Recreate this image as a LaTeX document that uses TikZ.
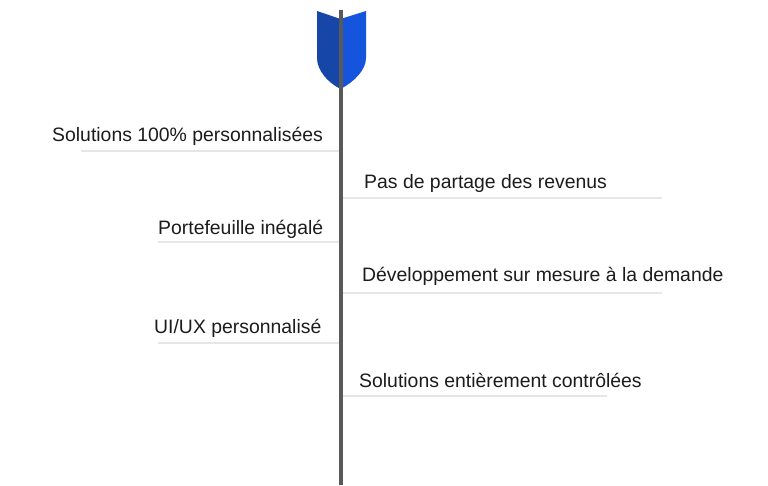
\documentclass[tikz,border=0pt]{standalone}
\usepackage{fontspec}
\setmainfont{Liberation Sans}
\definecolor{shaftgray}{HTML}{595959}
\definecolor{rulegray}{HTML}{E7E6E6}
\definecolor{fletchdark}{HTML}{1546A8}
\definecolor{fletchlight}{HTML}{1554DC}
\definecolor{labeltext}{HTML}{1C1C1C}
\tikzset{
  lab/.style={font=\fontsize{19.4}{22}\selectfont, text=labeltext, inner sep=0pt, anchor=base west},
  rulel/.style={draw=rulegray, line width=2pt},
  shaft/.style={draw=shaftgray, line width=4pt}
}
\begin{document}
\begin{tikzpicture}[x=1pt,y=-1pt]
\useasboundingbox (0,0) rectangle (768,486);
\fill[white] (0,0) rectangle (768,486);
\coordinate (top) at (340.5,10);
\coordinate (bot) at (340.5,485);
\fill[fletchdark] (317,11) -- (340.5,19) -- (340.5,89) .. controls (327,82) and (317,70) .. (317,58) -- cycle;
\fill[fletchlight] (366,11) -- (340.5,19) -- (340.5,89) .. controls (354,82) and (366,70) .. (366,58) -- cycle;
\coordinate (a) at (81,151.5); \coordinate (aa) at (340,151.5);
\coordinate (b) at (158,242.5); \coordinate (bb) at (340,242.5);
\coordinate (c) at (158,342.5); \coordinate (cc) at (340,342.5);
\coordinate (d) at (341,198); \coordinate (dd) at (662,198);
\coordinate (e) at (341,293); \coordinate (ee) at (662,293);
\coordinate (f) at (341,395.5); \coordinate (ff) at (607,395.5);
\draw[rulel] (a) -- (aa);
\draw[rulel] (b) -- (bb);
\draw[rulel] (c) -- (cc);
\draw[rulel] (d) -- (dd);
\draw[rulel] (e) -- (ee);
\draw[rulel] (f) -- (ff);
\draw[shaft] (top) -- (bot);
\node[lab] (n1) at (52,142) {Solutions 100\% personnalisées};
\node[lab] (n2) at (158,234.5) {Portefeuille inégalé};
\node[lab] (n3) at (154,333.5) {UI/UX personnalisé};
\node[lab] (n4) at (364,189) {Pas de partage des revenus};
\node[lab] (n5) at (362,282) {Développement sur mesure à la demande};
\node[lab] (n6) at (359,387) {Solutions entièrement contrôlées};
\end{tikzpicture}
\end{document}
